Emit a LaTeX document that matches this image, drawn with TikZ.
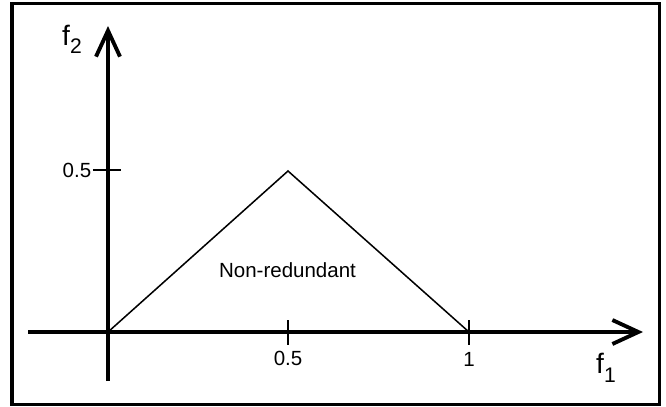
\documentclass[tikz,border=0pt]{standalone}
\usepackage{fontspec}
\setmainfont{Liberation Sans}
\usetikzlibrary{arrows.meta}

\begin{document}
\begin{tikzpicture}[x=0.03cm, y=-0.03cm, every node/.style={inner sep=0pt, font=\fontsize{17.5}{20}\selectfont},
    axis/.style={line width=3.3pt, -{Straight Barb[length=0.78cm, width=0.72cm, line width=3.3pt]}},
    tick/.style={line width=1.3pt}]
        \useasboundingbox (0,0) rectangle (666,406);
        \draw[line width=2.6pt] (12,3.5) rectangle (659.5,404.5);

        % Define the points
        \coordinate (O) at (108,332);
        \coordinate (xstart) at (28,332);
        \coordinate (xend) at (643,332);
        \coordinate (ystart) at (108,381);
        \coordinate (yend) at (108,26);
        \coordinate (peak) at (288,171);
        \coordinate (half) at (288,332);
        \coordinate (one) at (469,332);
        \coordinate (yhalf) at (108,170);

        % Axes
        \draw[axis] (xstart) -- (xend);
        \draw[axis] (ystart) -- (yend);

        % Ticks
        \draw[tick] ([xshift=-13]yhalf) -- ([xshift=11]yhalf);
        \draw[tick] ([yshift=-11]half) -- ([yshift=10]half);
        \draw[tick] ([yshift=-11]one) -- ([yshift=10]one);

        % Region
        \draw[line width=1.3pt] (O) -- (peak) -- (one);

        % Labels
        \node[anchor=base west] (ftwo) at (62,45) {\fontsize{24}{24}\selectfont f\raisebox{-7pt}{\fontsize{18}{20}\selectfont 2}};
        \node[anchor=base west] (fone) at (596,373) {\fontsize{24}{24}\selectfont f\raisebox{-8pt}{\fontsize{18}{20}\selectfont 1}};
        \node (lyhalf) at (77,170) {0.5};
        \node (lhalf) at (288,358.5) {0.5};
        \node (lone) at (469,359.5) {1};
        \node (region) at (287.5,270) {Non-redundant};

\end{tikzpicture}
\end{document}
